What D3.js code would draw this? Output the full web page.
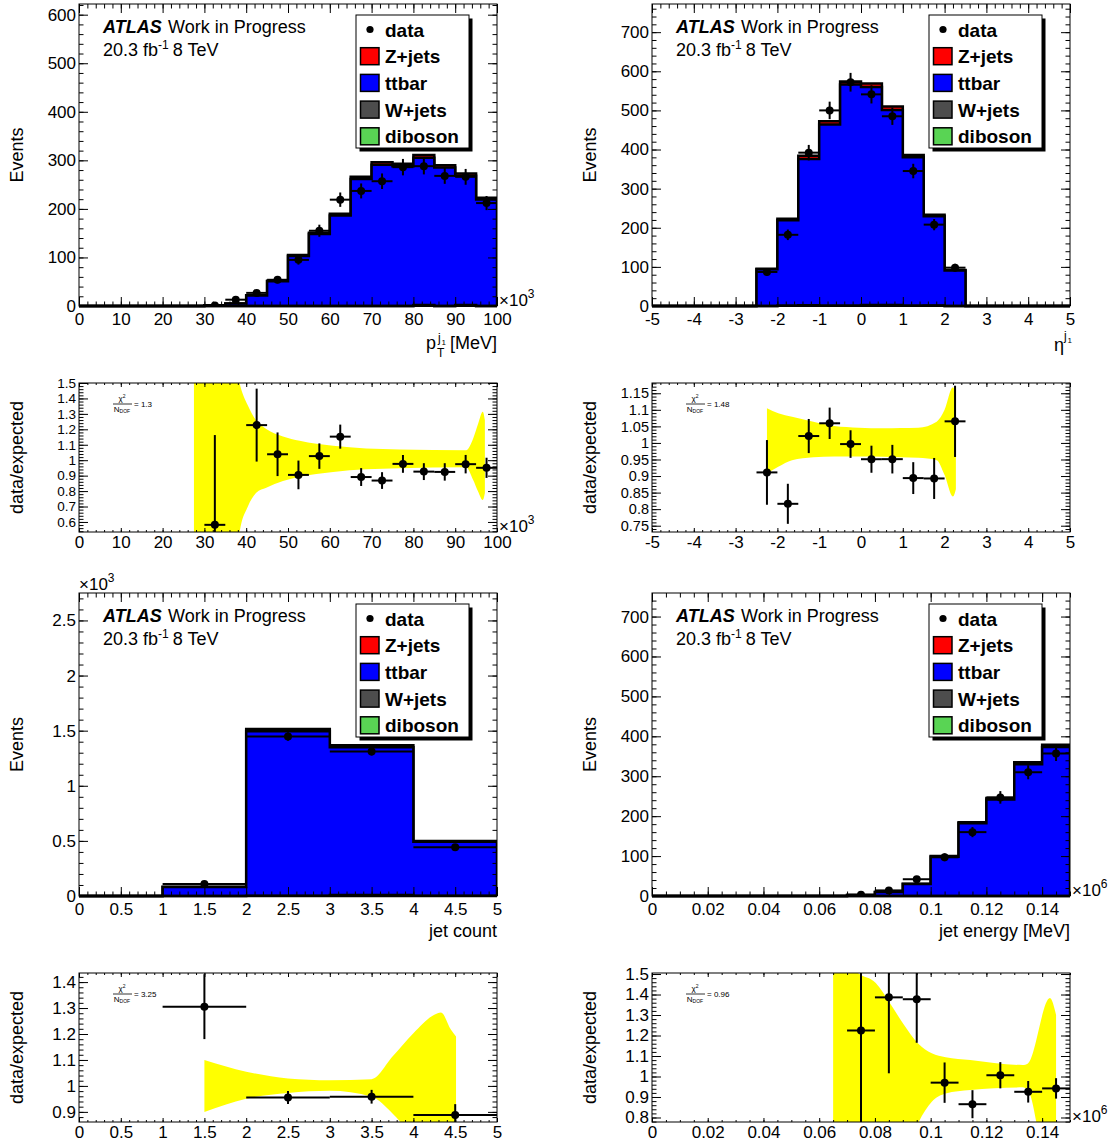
<!DOCTYPE html>
<html>
<head>
<meta charset="utf-8">
<script src="https://cdn.jsdelivr.net/npm/d3@7"></script>
<style>
  body { margin: 0; background: #fff; }
  svg { display: block; }
</style>
</head>
<body>
<div id="chart"></div>
<script>
// ========================================
// DATA
// ========================================

// leading jet pT, x in units of 10^3 MeV, bin width 5
const ptBins    = [0, 5, 10, 15, 20, 25, 30, 35, 40, 45, 50, 55, 60, 65, 70, 75, 80, 85, 90, 95];
const ptData    = [0, 0, 0, 0, 0, 0, 1, 13, 27, 54, 95, 155, 219, 237, 257, 286, 288, 268, 266, 212];
const ptTtbar   = [0, 0, 0, 0, 0, 0, 1.67, 4.9, 21.6, 51, 103, 148.2, 186.6, 261.4, 291, 287.8, 303, 285, 266.5, 219.2];
const ptZjets   = [0, 0, 0, 0, 0, 0, 0.05, 0.1, 0.4, 1, 2, 2.8, 3.4, 4.6, 5, 5.2, 5.8, 5, 4.6, 3.8];
const ptWjets   = [0, 0, 0, 0, 0, 0, 0, 0, 0, 0, 0, 0, 0, 0, 0, 0, 1.8, 0, 1.5, 0];
const ptDiboson = [0, 0, 0, 0, 0, 0, 0, 0, 0, 0, 0, 0, 0, 0, 0, 0, 0.4, 0, 0.4, 0];
const ptBandX   = [27.5, 37.6, 38.4, 40.4, 42.4, 44.8, 48.8, 52.8, 60.8, 68.7, 76.7, 92.6, 94.3, 95.5, 96.6, 97.1];
const ptBandUp  = [3.0, 1.6, 1.5, 1.354, 1.257, 1.202, 1.154, 1.126, 1.093, 1.076, 1.07, 1.065, 1.141, 1.238, 1.314, 1.26];
const ptBandLo  = [-1.0, 0.35, 0.53, 0.70, 0.789, 0.822, 0.865, 0.893, 0.924, 0.941, 0.948, 0.954, 0.872, 0.796, 0.742, 0.787];

// leading jet eta, bin width 0.5
const etaBins    = [-5, -4.5, -4, -3.5, -3, -2.5, -2, -1.5, -1, -0.5, 0, 0.5, 1, 1.5, 2, 2.5, 3, 3.5, 4, 4.5];
const etaData    = [0, 0, 0, 0, 0, 87, 182, 392, 500, 572, 541, 485, 345, 208, 98, 0, 0, 0, 0, 0];
const etaTtbar   = [0, 0, 0, 0, 0, 93.7, 218.5, 373.9, 463.2, 565.1, 557.6, 498.7, 379.4, 228, 90.2, 0, 0, 0, 0, 0];
const etaZjets   = [0, 0, 0, 0, 0, 1.5, 4, 8, 8, 8, 9, 9, 6, 3.5, 1.5, 0, 0, 0, 0, 0];
const etaWjets   = [0, 0, 0, 0, 0, 0, 0, 1.5, 0, 0, 1.5, 1.5, 0, 1, 0, 0, 0, 0, 0, 0];
const etaDiboson = [0, 0, 0, 0, 0, 0.3, 0.5, 0.6, 0.8, 0.9, 0.9, 0.8, 0.6, 0.5, 0.3, 0, 0, 0, 0, 0];
const etaBandX   = [-2.25, -1.98, -1.65, -1.14, -0.64, -0.05, 0.53, 0.95, 1.37, 1.81, 2.0, 2.2, 2.27];
const etaBandUp  = [1.105, 1.09, 1.079, 1.064, 1.051, 1.046, 1.044, 1.045, 1.046, 1.064, 1.10, 1.168, 1.14];
const etaBandLo  = [0.908, 0.928, 0.948, 0.957, 0.959, 0.959, 0.958, 0.957, 0.955, 0.948, 0.903, 0.838, 0.86];

// jet count, bin width 1
const njBins    = [0, 1, 2, 3, 4];
const njData    = [0, 109, 1447, 1311, 442];
const njTtbar   = [0, 82.5, 1492.5, 1340, 490.5];
const njZjets   = [0, 1, 20, 19, 5];
const njWjets   = [0, 0, 2, 8, 2];
const njDiboson = [0, 0, 0.5, 1, 0.5];
const njBandX   = [1.5, 2.0, 2.5, 3.0, 3.5, 3.75, 4.0, 4.25, 4.33, 4.45, 4.51];
const njBandUp  = [1.10, 1.055, 1.029, 1.022, 1.026, 1.113, 1.203, 1.274, 1.283, 1.216, 1.19];
const njBandLo  = [0.90, 0.951, 0.973, 0.981, 0.958, 0.894, 0.80, 0.70, 0.66, 0.62, 0.62];

// jet energy, x in units of 10^6 MeV, bin width 0.01
const eBins    = [0, 0.01, 0.02, 0.03, 0.04, 0.05, 0.06, 0.07, 0.08, 0.09, 0.1, 0.11, 0.12, 0.13, 0.14];
const eData    = [0, 0, 0, 0, 0, 0, 0, 3, 14, 42, 97, 160, 247, 310, 357];
const eTtbar   = [0, 0, 0, 0, 0, 0, 0, 2.4, 9.9, 30, 98.5, 182.2, 241.9, 330, 373];
const eZjets   = [0, 0, 0, 0, 0, 0, 0, 0.05, 0.2, 0.5, 1.5, 2.8, 3.6, 5, 6];
const eWjets   = [0, 0, 0, 0, 0, 0, 0, 0, 0, 0, 0, 0, 0, 0, 0];
const eDiboson = [0, 0, 0, 0, 0, 0, 0, 0, 0, 0, 0, 0, 0, 0, 0];
const eBandX   = [0.065, 0.0728, 0.0803, 0.0854, 0.0904, 0.0954, 0.1004, 0.1054, 0.1142, 0.133, 0.1349, 0.1428, 0.145];
const eBandUp  = [3, 1.52, 1.456, 1.358, 1.252, 1.162, 1.113, 1.094, 1.081, 1.056, 1.064, 1.383, 1.30];
const eBandLo  = [-1, -0.3, 0.2, 0.4, 0.6, 0.77, 0.877, 0.917, 0.934, 0.947, 0.934, 0.5, 0.6];

// tick labels
const ptTicks   = [0, 10, 20, 30, 40, 50, 60, 70, 80, 90, 100];
const etaTicks  = [-5, -4, -3, -2, -1, 0, 1, 2, 3, 4, 5];
const njTicks   = [0, 0.5, 1, 1.5, 2, 2.5, 3, 3.5, 4, 4.5, 5];
const eTicks    = [0, 0.02, 0.04, 0.06, 0.08, 0.1, 0.12, 0.14];
const ptYTicks  = [0, 100, 200, 300, 400, 500, 600];
const etaYTicks = [0, 100, 200, 300, 400, 500, 600, 700];
const njYTicks  = [0, 500, 1000, 1500, 2000, 2500];
const eYTicks   = [0, 100, 200, 300, 400, 500, 600, 700];
const ptRTicks  = [0.6, 0.7, 0.8, 0.9, 1, 1.1, 1.2, 1.3, 1.4, 1.5];
const etaRTicks = [0.75, 0.8, 0.85, 0.9, 0.95, 1, 1.05, 1.1, 1.15];
const njRTicks  = [0.9, 1, 1.1, 1.2, 1.3, 1.4];
const eRTicks   = [0.8, 0.9, 1, 1.1, 1.2, 1.3, 1.4, 1.5];
const chi2Values = ['1.3', '1.48', '3.25', '0.96'];

const stackOrder = [
  { key: 'diboson', color: '#59d454' },
  { key: 'wjets',   color: '#4d4d4d' },
  { key: 'ttbar',   color: '#0000ff' },
  { key: 'zjets',   color: '#ff0000' }
];
const legendEntries = [
  { label: 'data' },
  { label: 'Z+jets',  color: '#ff0000' },
  { label: 'ttbar',   color: '#0000ff' },
  { label: 'W+jets',  color: '#4d4d4d' },
  { label: 'diboson', color: '#59d454' }
];

// ========================================
// LAYOUT
// ========================================
const W = 1119, H = 1146;
const FONT = '"Liberation Sans", Arial, Helvetica, sans-serif';
const COLS = [79, 652];
const FW = 418;
const MAIN = [[4, 306], [593, 896]];
const RATIO = [[383, 532], [973, 1122]];

const panels = [
  { col: 0, row: 0, bins: ptBins, bw: 5, xDom: [0, 100], data: ptData,
    ttbar: ptTtbar, zjets: ptZjets, wjets: ptWjets, diboson: ptDiboson,
    yMax: 622, xMajor: ptTicks, xMinor: 2, yMajor: ptYTicks, yMinor: 20, yFmt: String,
    rDom: [0.535, 1.5], rMajor: ptRTicks, rMinor: 0.02, rFont: 13.5,
    bandX: ptBandX, bandUp: ptBandUp, bandLo: ptBandLo, chi2: chi2Values[0], xExp: '3', title: 'pt' },
  { col: 1, row: 0, bins: etaBins, bw: 0.5, xDom: [-5, 5], data: etaData,
    ttbar: etaTtbar, zjets: etaZjets, wjets: etaWjets, diboson: etaDiboson,
    yMax: 772, xMajor: etaTicks, xMinor: 0.2, yMajor: etaYTicks, yMinor: 20, yFmt: String,
    rDom: [0.731, 1.181], rMajor: etaRTicks, rMinor: 0.01, rFont: 14.5,
    bandX: etaBandX, bandUp: etaBandUp, bandLo: etaBandLo, chi2: chi2Values[1], title: 'eta' },
  { col: 0, row: 1, bins: njBins, bw: 1, xDom: [0, 5], data: njData,
    ttbar: njTtbar, zjets: njZjets, wjets: njWjets, diboson: njDiboson,
    yMax: 2749, xMajor: njTicks, xMinor: 0.1, yMajor: njYTicks, yMinor: 100, yFmt: v => String(v / 1000),
    rDom: [0.861, 1.435], rMajor: njRTicks, rMinor: 0.02, rFont: 17,
    bandX: njBandX, bandUp: njBandUp, bandLo: njBandLo, chi2: chi2Values[2], yExp: '3', title: 'jet count' },
  { col: 1, row: 1, bins: eBins, bw: 0.01, xDom: [0, 0.15], data: eData,
    ttbar: eTtbar, zjets: eZjets, wjets: eWjets, diboson: eDiboson,
    yMax: 759, xMajor: eTicks, xMinor: 0.005, yMajor: eYTicks, yMinor: 20, yFmt: String,
    rDom: [0.778, 1.505], rMajor: eRTicks, rMinor: 0.02, rFont: 17,
    bandX: eBandX, bandUp: eBandUp, bandLo: eBandLo, chi2: chi2Values[3], xExp: '6', title: 'jet energy [MeV]' }
];

const svg = d3.select('#chart').append('svg')
  .attr('width', W).attr('height', H)
  .attr('font-family', FONT);
svg.append('rect').attr('width', W).attr('height', H).attr('fill', '#fff');
const defs = svg.append('defs');

function minors(dom, step) {
  const out = [];
  const k0 = Math.ceil(dom[0] / step - 1e-6), k1 = Math.floor(dom[1] / step + 1e-6);
  for (let k = k0; k <= k1; k++) out.push(k * step);
  return out;
}

function clipRect(id, x, y, w, h) {
  defs.append('clipPath').attr('id', id).append('rect')
    .attr('x', x).attr('y', y).attr('width', w).attr('height', h);
  return `url(#${id})`;
}

function drawAxes(g, x, y, o) {
  const [x0, x1] = x.range(), [yb, yt] = y.range();
  const mk = (axis, tx, ty, vals, size, fmt, pad, fs) => {
    const a = g.append('g').attr('transform', `translate(${tx},${ty})`)
      .call(axis.tickValues(vals).tickSize(-size).tickPadding(pad || 3).tickFormat(fmt || (() => '')));
    a.select('.domain').remove();
    a.attr('font-family', FONT).attr('font-size', fs || 17);
    a.selectAll('line').attr('stroke', '#000').attr('stroke-width', 1);
    a.selectAll('text').attr('fill', '#000');
  };
  const xm = minors(x.domain(), o.xMinor), ym = minors(y.domain(), o.yMinor);
  mk(d3.axisBottom(x), 0, yb, o.xMajor, o.xLen, String, o.xPad);
  mk(d3.axisBottom(x), 0, yb, xm, o.xLen / 2);
  mk(d3.axisTop(x), 0, yt, o.xMajor, o.xLen);
  mk(d3.axisTop(x), 0, yt, xm, o.xLen / 2);
  mk(d3.axisLeft(y), x0, 0, o.yMajor, 9, o.yFmt, 3, o.yFont);
  mk(d3.axisLeft(y), x0, 0, ym, 4.5);
  mk(d3.axisRight(y), x1, 0, o.yMajor, 9);
  mk(d3.axisRight(y), x1, 0, ym, 4.5);
}

function expLabel(g, xPos, yPos, pow) {
  const t = g.append('text').attr('x', xPos).attr('y', yPos).attr('font-size', 17);
  t.append('tspan').text('×10');
  t.append('tspan').attr('font-size', 12).attr('dy', -8).text(pow);
}

function yTitle(g, left, top, bottom, label) {
  g.append('text')
    .attr('transform', `translate(${left - 56},${(top + bottom) / 2}) rotate(-90)`)
    .attr('text-anchor', 'middle').attr('font-size', 18).text(label);
}

function xTitle(g, p, right, base) {
  if (p.title === 'pt') {
    g.append('text').attr('x', right).attr('y', base).attr('text-anchor', 'end').attr('font-size', 18).text('[MeV]');
    g.append('text').attr('x', right - 71).attr('y', base).attr('font-size', 18).text('p');
    g.append('text').attr('x', right - 60).attr('y', base + 8).attr('font-size', 12).text('T');
    g.append('text').attr('x', right - 59).attr('y', base - 7).attr('font-size', 12).text('j');
    g.append('text').attr('x', right - 55.5).attr('y', base - 4).attr('font-size', 8).text('1');
  } else if (p.title === 'eta') {
    g.append('text').attr('x', right - 16).attr('y', base + 2).attr('font-size', 18).text('η');
    g.append('text').attr('x', right - 6).attr('y', base - 9).attr('font-size', 12).text('j');
    g.append('text').attr('x', right - 2.5).attr('y', base - 6).attr('font-size', 8).text('1');
  } else {
    g.append('text').attr('x', right).attr('y', base).attr('text-anchor', 'end').attr('font-size', 18).text(p.title);
  }
}

function drawLegend(g, lx, ly) {
  const w = 113, h = 133;
  g.append('rect').attr('x', lx + 3.5).attr('y', ly + 3.5).attr('width', w).attr('height', h).attr('fill', '#000');
  g.append('rect').attr('x', lx).attr('y', ly).attr('width', w).attr('height', h)
    .attr('fill', '#fff').attr('stroke', '#000').attr('stroke-width', 1);
  legendEntries.forEach((e, i) => {
    const cy = ly + 14.5 + i * 26.7;
    if (e.color) {
      g.append('rect').attr('x', lx + 4.5).attr('y', cy - 8.5).attr('width', 18.5).attr('height', 17)
        .attr('fill', e.color).attr('stroke', '#000').attr('stroke-width', 1.5);
    } else {
      g.append('circle').attr('cx', lx + 14).attr('cy', cy).attr('r', 3.6).attr('fill', '#000');
    }
    g.append('text').attr('x', lx + 29).attr('y', cy + 7).attr('font-size', 19)
      .attr('font-weight', 'bold').text(e.label);
  });
}

function drawMain(p, i) {
  const left = COLS[p.col], [top, bottom] = MAIN[p.row];
  const x = d3.scaleLinear().domain(p.xDom).range([left, left + FW]);
  const y = d3.scaleLinear().domain([0, p.yMax]).range([bottom, top]);
  const g = svg.append('g');
  const last = p.bins.length - 1, end = p.bins[last] + p.bw;

  // cumulative stack, bottom to top
  let run = p.bins.map(() => 0);
  const layers = stackOrder.map(s => {
    run = run.map((v, k) => v + p[s.key][k]);
    return { color: s.color, vals: run.slice() };
  });

  const hist = g.append('g').attr('clip-path', clipRect('cm' + i, left, top, FW, bottom - top + 2));
  const area = d3.area().x(d => x(d[0])).y0(y(0)).y1(d => y(d[1])).curve(d3.curveStepAfter);
  const line = d3.line().x(d => x(d[0])).y(d => y(d[1])).curve(d3.curveStepAfter);
  layers.slice().reverse().forEach(l => {
    const pts = p.bins.map((b, k) => [b, l.vals[k]]).concat([[end, l.vals[last]]]);
    hist.append('path').attr('d', area(pts)).attr('fill', l.color);
    hist.append('path').attr('d', line([[p.bins[0], 0]].concat(pts, [[end, 0]])))
      .attr('fill', 'none').attr('stroke', '#000').attr('stroke-width', 2.5);
  });

  // data with poisson errors
  const pts = g.append('g').attr('clip-path', clipRect('cd' + i, left, top, FW, bottom - top));
  p.bins.forEach((b, k) => {
    const v = p.data[k];
    if (!(v > 0)) return;
    const e = Math.sqrt(v), cx = x(b + p.bw / 2);
    pts.append('line').attr('x1', x(b)).attr('x2', x(b + p.bw)).attr('y1', y(v)).attr('y2', y(v))
      .attr('stroke', '#000').attr('stroke-width', 2);
    pts.append('line').attr('x1', cx).attr('x2', cx).attr('y1', y(v - e)).attr('y2', y(v + e))
      .attr('stroke', '#000').attr('stroke-width', 2);
    pts.append('circle').attr('cx', cx).attr('cy', y(v)).attr('r', 4).attr('fill', '#000');
  });

  g.append('rect').attr('x', left).attr('y', top).attr('width', FW).attr('height', bottom - top)
    .attr('fill', 'none').attr('stroke', '#000').attr('stroke-width', 1);
  drawAxes(g, x, y, { xMajor: p.xMajor, xMinor: p.xMinor, yMajor: p.yMajor, yMinor: p.yMinor,
    xLen: 9, xPad: 7, yFmt: p.yFmt, yFont: 17 });

  // ATLAS label
  g.append('text').attr('x', left + 24).attr('y', top + 29).attr('font-size', 18)
    .attr('font-weight', 'bold').attr('font-style', 'italic').text('ATLAS');
  g.append('text').attr('x', left + 89).attr('y', top + 29).attr('font-size', 18).text('Work in Progress');
  const lumi = g.append('text').attr('x', left + 24).attr('y', top + 52).attr('font-size', 18);
  lumi.append('tspan').text('20.3 fb');
  lumi.append('tspan').attr('font-size', 12).attr('dy', -7).text('-1');
  lumi.append('tspan').attr('dy', 7).attr('dx', 4).text('8 TeV');

  drawLegend(g, left + 277, top + 11);
  yTitle(g, left, top, bottom, 'Events');
  xTitle(g, p, left + FW, p.row === 0 ? 349 : 937);
  if (p.xExp) expLabel(g, left + FW + 2, bottom, p.xExp);
  if (p.yExp) expLabel(g, left, top - 3, p.yExp);
}

function drawRatio(p, i) {
  const left = COLS[p.col], [top, bottom] = RATIO[p.row];
  const x = d3.scaleLinear().domain(p.xDom).range([left, left + FW]);
  const y = d3.scaleLinear().domain(p.rDom).range([bottom, top]);
  const g = svg.append('g');
  const inner = g.append('g').attr('clip-path', clipRect('cr' + i, left, top, FW, bottom - top));

  const band = d3.area()
    .x((d, k) => x(p.bandX[k]))
    .y0((d, k) => y(p.bandLo[k]))
    .y1((d, k) => y(p.bandUp[k]))
    .curve(d3.curveMonotoneX);
  inner.append('path').attr('d', band(p.bandX)).attr('fill', '#ffff00');

  p.bins.forEach((b, k) => {
    const v = p.data[k];
    const mc = p.ttbar[k] + p.zjets[k] + p.wjets[k] + p.diboson[k];
    if (!(v > 0) || !(mc > 0)) return;
    const r = v / mc, e = Math.sqrt(v) / mc, cx = x(b + p.bw / 2);
    inner.append('line').attr('x1', x(b)).attr('x2', x(b + p.bw)).attr('y1', y(r)).attr('y2', y(r))
      .attr('stroke', '#000').attr('stroke-width', 2);
    inner.append('line').attr('x1', cx).attr('x2', cx).attr('y1', y(r - e)).attr('y2', y(r + e))
      .attr('stroke', '#000').attr('stroke-width', 2);
    inner.append('circle').attr('cx', cx).attr('cy', y(r)).attr('r', 4).attr('fill', '#000');
  });

  g.append('rect').attr('x', left).attr('y', top).attr('width', FW).attr('height', bottom - top)
    .attr('fill', 'none').attr('stroke', '#000').attr('stroke-width', 1);
  drawAxes(g, x, y, { xMajor: p.xMajor, xMinor: p.xMinor, yMajor: p.rMajor, yMinor: p.rMinor,
    xLen: 4, xPad: 4, yFmt: String, yFont: p.rFont });

  // chi2 / ndof
  const c = g.append('g').attr('font-size', 8);
  const num = c.append('text').attr('x', left + 43).attr('y', top + 18).attr('text-anchor', 'middle');
  num.append('tspan').text('χ');
  num.append('tspan').attr('font-size', 5).attr('dy', -3).text('2');
  c.append('line').attr('x1', left + 34).attr('x2', left + 53).attr('y1', top + 21).attr('y2', top + 21)
    .attr('stroke', '#000').attr('stroke-width', 0.8);
  const den = c.append('text').attr('x', left + 43).attr('y', top + 29).attr('text-anchor', 'middle');
  den.append('tspan').text('N');
  den.append('tspan').attr('font-size', 5).attr('dy', 1).text('DOF');
  c.append('text').attr('x', left + 55).attr('y', top + 24).text('= ' + p.chi2);

  yTitle(g, left, top, bottom, 'data/expected');
  if (p.xExp) expLabel(g, left + FW + 2, bottom, p.xExp);
}

panels.forEach((p, i) => { drawMain(p, i); drawRatio(p, i); });
</script>
</body>
</html>
